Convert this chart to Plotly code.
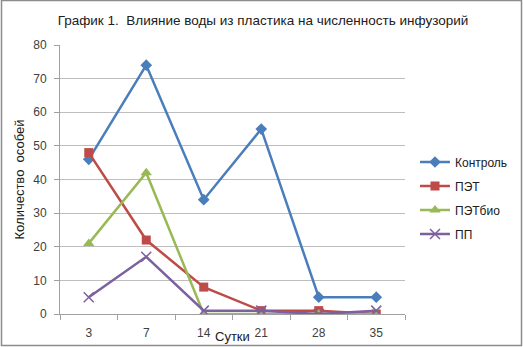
import plotly.graph_objects as go

days = ["3", "7", "14", "21", "28", "35"]
kontrol = [46, 74, 34, 55, 5, 5]
pet = [48, 22, 8, 1, 1, 0]
petbio = [21, 42, 0, 0, 0, 0]
pp = [5, 17, 1, 1, 0, 1]

W, H = 523, 347
L, R, T, B = 60, 118, 45, 33
pw, ph = W - L - R, H - T - B

font = "Liberation Sans"
txt = "#404040"

fig = go.Figure()
series = [
    ("Контроль", kontrol, "#4A7EBB", dict(symbol="diamond", size=9)),
    ("ПЭТ", pet, "#BE4B48", dict(symbol="square", size=9)),
    ("ПЭТбио", petbio, "#98B954", dict(symbol="triangle-up", size=10)),
    ("ПП", pp, "#7D60A0", dict(symbol="x-thin", size=10, line=dict(width=1.5, color="#7D60A0"))),
]
for name, vals, col, mk in series:
    fig.add_trace(go.Scatter(
        x=days, y=vals, name=name, mode="lines+markers",
        line=dict(color=col, width=2.5), marker=dict(color=col, **mk),
        legendgroup=name,
    ))

fig.update_layout(
    width=W, height=H,
    margin=dict(l=L, r=R, t=T, b=B, autoexpand=False),
    paper_bgcolor="white", plot_bgcolor="white",
    font=dict(family=font, size=12, color=txt),
    title=dict(text="График 1.  Влияние воды из пластика на численность инфузорий",
               x=263 / W, xanchor="center", y=1 - 20 / H, yanchor="middle",
               font=dict(size=13.5, color="#202020")),
    showlegend=True,
    legend=dict(x=(415 - L) / pw, xanchor="left", y=(H - B - 198) / ph, yanchor="middle",
                font=dict(size=12, color="#202020"), tracegroupgap=5, bgcolor="rgba(0,0,0,0)"),
    xaxis=dict(type="category", tickson="boundaries", ticks="outside", ticklen=5,
               tickcolor="#A0A0A0", showline=True, linecolor="#A0A0A0", linewidth=1,
               showgrid=False, tickfont=dict(size=12, color=txt), range=[-0.5, 5.5],
               ticklabelstandoff=8),
    yaxis=dict(range=[0, 80], dtick=10, ticks="outside", ticklen=5, tickcolor="#A0A0A0",
               showline=True, linecolor="#A0A0A0", linewidth=1,
               gridcolor="#BEBEBE", gridwidth=1, zeroline=False,
               tickfont=dict(size=12, color=txt), ticklabelstandoff=5,
               title=dict(text="Количество  особей", font=dict(size=13, color="#202020"), standoff=5)),
)

fig.add_annotation(text="Сутки", xref="paper", yref="paper",
                   x=0.5, y=-(336 - (H - B)) / ph, xanchor="center", yanchor="middle",
                   showarrow=False, font=dict(size=13, color="#202020"))

# outer chart border
fig.add_shape(type="rect", xref="paper", yref="paper",
              x0=(1.5 - L) / pw, x1=(521.5 - L) / pw,
              y0=(H - B - 345.5) / ph, y1=(H - B - 0.5) / ph,
              line=dict(color="#8C8C8C", width=1.5), fillcolor="rgba(0,0,0,0)")

fig.write_html("out.html", config={"displayModeBar": False},
               post_script="document.body.style.margin='0';document.body.style.overflow='hidden';")
